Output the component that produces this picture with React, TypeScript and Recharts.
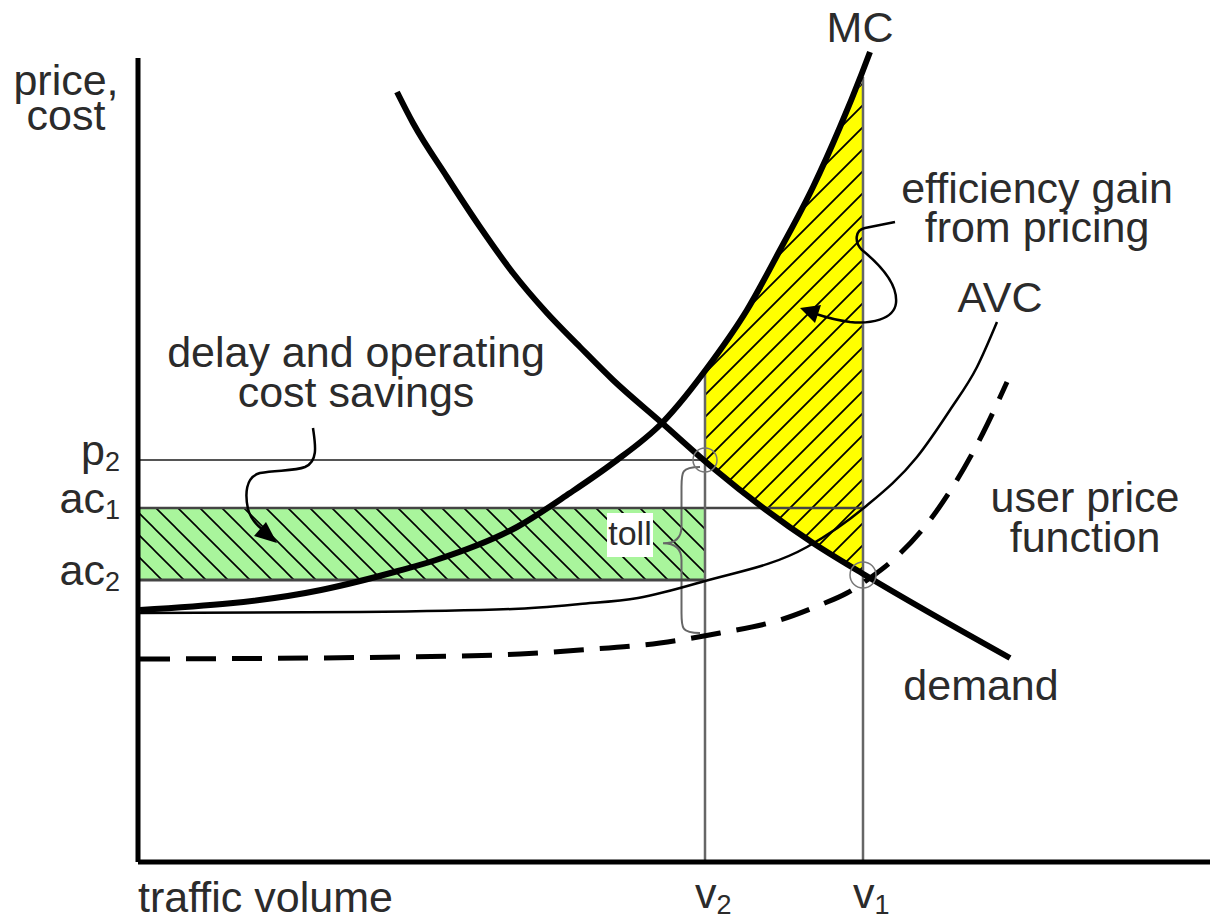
import React from 'react'
import {
  ComposedChart,
  Line,
  Area,
  XAxis,
  YAxis,
  ReferenceLine,
  ReferenceArea,
  ReferenceDot,
} from 'recharts'

// traffic volume (q) against price / cost (p)
const demand = [
  { q: 2.59, p: 7.7 }, { q: 2.75, p: 7.39 }, { q: 3.09, p: 6.85 }, { q: 3.42, p: 6.35 },
  { q: 3.75, p: 5.89 }, { q: 4.09, p: 5.49 }, { q: 4.42, p: 5.15 }, { q: 4.75, p: 4.82 },
  { q: 5.24, p: 4.39 }, { q: 5.75, p: 3.94 }, { q: 6.75, p: 3.19 }, { q: 7.27, p: 2.87 },
  { q: 8.72, p: 2.04 },
]

const marginalCost = [
  { q: 0.02, p: 2.52 }, { q: 1.83, p: 2.72 }, { q: 2.6, p: 2.91 },
  { q: 2.98, p: 3.02 }, { q: 3.79, p: 3.35 }, { q: 4.32, p: 3.69 }, { q: 4.75, p: 3.99 },
  { q: 5.24, p: 4.39 }, { q: 5.75, p: 5.02 }, { q: 6.09, p: 5.52 }, { q: 6.42, p: 6.12 },
  { q: 6.75, p: 6.75 }, { q: 7.02, p: 7.35 }, { q: 7.24, p: 7.89 }, { q: 7.32, p: 8.1 },
]

const avgVariableCost = [
  { q: 0.02, p: 2.49 }, { q: 2.22, p: 2.5 }, { q: 3.75, p: 2.53 }, { q: 4.42, p: 2.58 },
  { q: 5.0, p: 2.64 }, { q: 5.67, p: 2.81 }, { q: 6.69, p: 3.15 }, { q: 7.27, p: 3.55 },
  { q: 7.79, p: 4.05 }, { q: 8.12, p: 4.52 }, { q: 8.39, p: 4.95 }, { q: 8.59, p: 5.4 },
]

const userPrice = [
  { q: 0.02, p: 2.03 }, { q: 2.62, p: 2.05 }, { q: 3.82, p: 2.08 }, { q: 4.42, p: 2.12 },
  { q: 5.22, p: 2.19 }, { q: 5.82, p: 2.29 }, { q: 6.42, p: 2.42 }, { q: 6.82, p: 2.57 },
  { q: 7.09, p: 2.69 }, { q: 7.32, p: 2.84 }, { q: 7.55, p: 3.02 }, { q: 7.92, p: 3.42 },
  { q: 8.19, p: 3.82 }, { q: 8.45, p: 4.29 }, { q: 8.69, p: 4.8 },
]

// between demand (low) and MC (high), from v2 to v1
const efficiencyGain = [
  { q: 5.67, band: [4.0, 4.88] }, { q: 6.0, band: [3.74, 5.39] }, { q: 6.25, band: [3.56, 5.81] },
  { q: 6.5, band: [3.37, 6.27] }, { q: 6.75, band: [3.19, 6.75] }, { q: 7.0, band: [3.03, 7.3] },
  { q: 7.25, band: [2.88, 7.82] },
]

const V2 = 5.67
const V1 = 7.25
const P2 = 4.02
const AC1 = 3.54
const AC2 = 2.82

const costSavings = [
  { q: 0, band: [AC2, AC1] },
  { q: V2, band: [AC2, AC1] },
]

const volumeTicks = [
  { value: V2, base: 'v', sub: '2' },
  { value: V1, base: 'v', sub: '1' },
]
const priceTicks = [
  { value: P2, base: 'p', sub: '2' },
  { value: AC1, base: 'ac', sub: '1' },
  { value: AC2, base: 'ac', sub: '2' },
]

const FONT = '"Liberation Sans", Arial, sans-serif'
const INK = '#2b2b2b'
const GUIDE = '#555'

// text notes on the diagram: position in data units, baseline of each line
const notes = [
  { x: -0.72, y: 7.67, lines: ['price,', 'cost'], step: 0.35, anchor: 'middle' },
  { x: 7.22, y: 8.2, lines: ['MC'], step: 0, anchor: 'middle' },
  { x: 8.99, y: 6.59, lines: ['efficiency gain', 'from pricing'], step: 0.39, anchor: 'middle' },
  { x: 8.62, y: 5.5, lines: ['AVC'], step: 0, anchor: 'middle' },
  { x: 9.47, y: 3.5, lines: ['user price', 'function'], step: 0.4, anchor: 'middle' },
  { x: 8.43, y: 1.62, lines: ['demand'], step: 0, anchor: 'middle' },
  { x: 2.18, y: 4.95, lines: ['delay and operating', 'cost savings'], step: 0.4, anchor: 'middle' },
  { x: 0, y: -0.5, lines: ['traffic volume'], step: 0, anchor: 'start' },
]

function subLabel(base: string, sub: string, x: number, y: number, anchor: string) {
  return (
    <text x={x} y={y} textAnchor={anchor} fontFamily={FONT} fontSize={43} fill={INK}>
      <tspan>{base}</tspan>
      <tspan fontSize={27} dy={6}>{sub}</tspan>
    </text>
  )
}

function VolumeTick(props: any) {
  const t = volumeTicks.find((d) => Math.abs(d.value - props.payload.value) < 1e-6)
  if (!t) return null
  return subLabel(t.base, t.sub, props.x - 10, props.y + 38, 'start')
}

function PriceTick(props: any) {
  const t = priceTicks.find((d) => Math.abs(d.value - props.payload.value) < 1e-6)
  if (!t) return null
  return subLabel(t.base, t.sub, props.x - 10, props.y + 5, 'end')
}

// "{" brace drawn inside the reference box, tip pointing left
function Brace(props: any) {
  const { x, y, width: w, height: h } = props
  const m = x + 0.5 * w
  const tip = y + 0.46 * h
  const d = [
    `M${x + w},${y}`,
    `C${m},${y} ${m},${y + 0.03 * h} ${m},${y + 0.12 * h}`,
    `L${m},${tip - 0.1 * h}`,
    `C${m},${tip - 0.03 * h} ${x + 0.3 * w},${tip} ${x},${tip}`,
    `C${x + 0.3 * w},${tip} ${m},${tip + 0.03 * h} ${m},${tip + 0.1 * h}`,
    `L${m},${y + 0.88 * h}`,
    `C${m},${y + 0.97 * h} ${m},${y + h} ${x + w},${y + h}`,
  ].join(' ')
  return <path d={d} fill="none" stroke="#666" strokeWidth={2} />
}

function DelayArrow(props: any) {
  const { cx, cy } = props
  return (
    <g transform={`translate(${cx},${cy})`}>
      <path
        d="M36,-115 C38,-100 42,-82 28,-76 C18,-72 0,-73 -17,-70 C-32,-66 -32,-48 -29,-34 C-27,-26 -23,-20 -14,-13"
        fill="none"
        stroke="#000"
        strokeWidth={2.5}
      />
      <path d="M0,0 L-23,-7 L-11,-21 Z" fill="#000" />
    </g>
  )
}

function GainArrow(props: any) {
  const { cx, cy } = props
  return (
    <g transform={`translate(${cx},${cy})`}>
      <path
        d="M95,-86 L65,-80 C55,-78 54,-66 62,-58 C78,-45 98,-25 96,-5 C94,12 70,16 50,14 C35,12 25,9 16,6"
        fill="none"
        stroke="#000"
        strokeWidth={2.5}
      />
      <path d="M0,0 L21,-3 L15,15 Z" fill="#000" />
    </g>
  )
}

function TollTag(props: any) {
  const { cx, cy } = props
  return (
    <g>
      <rect x={cx - 23} y={cy - 32} width={46} height={44} fill="#fff" />
      <text x={cx} y={cy} textAnchor="middle" fontFamily={FONT} fontSize={34} fill={INK}>
        toll
      </text>
    </g>
  )
}

function noteDot(n: (typeof notes)[number], i: number) {
  return (
    <ReferenceDot
      key={'note' + i}
      x={n.x}
      y={n.y}
      r={0}
      ifOverflow="visible"
      shape={(p: any) => (
        <text x={p.cx} y={p.cy} textAnchor={n.anchor} fontFamily={FONT} fontSize={43} fill={INK}>
          {n.lines.map((l, j) => (
            <tspan key={j} x={p.cx} y={p.cy + j * n.step * 100}>
              {l}
            </tspan>
          ))}
        </text>
      )}
    />
  )
}

export default function App() {
  return (
    <div style={{ position: 'absolute', left: 0, top: 0, width: 1210, height: 921, background: '#fff' }}>
      <ComposedChart width={1210} height={921} margin={{ top: 42, right: 0, bottom: 0, left: 0 }}>
        <defs>
          <pattern id="yellowHatch" patternUnits="userSpaceOnUse" width="22" height="22">
            <rect width="22" height="22" fill="#ffff00" />
            <path d="M-5.5,5.5 L5.5,-5.5 M0,22 L22,0 M16.5,27.5 L27.5,16.5" stroke="#000" strokeWidth={1.8} />
          </pattern>
          <pattern id="greenHatch" patternUnits="userSpaceOnUse" width="22" height="22">
            <rect width="22" height="22" fill="#a9f59c" />
            <path d="M-5.5,16.5 L5.5,27.5 M0,0 L22,22 M16.5,-5.5 L27.5,5.5" stroke="#000" strokeWidth={1.6} />
          </pattern>
        </defs>
        <XAxis
          dataKey="q"
          type="number"
          domain={[0, 10.72]}
          allowDataOverflow
          ticks={volumeTicks.map((t) => t.value)}
          tick={<VolumeTick />}
          axisLine={false}
          tickLine={false}
          height={59}
        />
        <YAxis
          type="number"
          domain={[0, 8.2]}
          allowDataOverflow
          ticks={priceTicks.map((t) => t.value)}
          tick={<PriceTick />}
          axisLine={false}
          tickLine={false}
          width={138}
        />

        <Area
          data={costSavings}
          dataKey="band"
          type="linear"
          stroke="none"
          fill="url(#greenHatch)"
          fillOpacity={1}
          isAnimationActive={false}
        />
        <Area
          data={efficiencyGain}
          dataKey="band"
          type="monotone"
          stroke="none"
          fill="url(#yellowHatch)"
          fillOpacity={1}
          isAnimationActive={false}
        />

        <ReferenceLine segment={[{ x: 0, y: P2 }, { x: V2, y: P2 }]} stroke={GUIDE} strokeWidth={2} />
        <ReferenceLine segment={[{ x: 0, y: AC1 }, { x: V1, y: AC1 }]} stroke="#444" strokeWidth={2.5} />
        <ReferenceLine segment={[{ x: 0, y: AC2 }, { x: V2, y: AC2 }]} stroke="#444" strokeWidth={3} />
        <ReferenceLine segment={[{ x: V2, y: 0 }, { x: V2, y: 4.88 }]} stroke="#666" strokeWidth={2.5} />
        <ReferenceLine segment={[{ x: V1, y: 0 }, { x: V1, y: 7.85 }]} stroke="#666" strokeWidth={2.5} />

        <Line
          data={userPrice}
          dataKey="p"
          type="monotone"
          dot={false}
          stroke="#000"
          strokeWidth={5}
          strokeDasharray="30 16"
          isAnimationActive={false}
        />
        <Line
          data={avgVariableCost}
          dataKey="p"
          type="monotone"
          dot={false}
          stroke="#000"
          strokeWidth={2.5}
          isAnimationActive={false}
        />
        <Line
          data={marginalCost}
          dataKey="p"
          type="monotone"
          dot={false}
          stroke="#000"
          strokeWidth={6}
          isAnimationActive={false}
        />
        <Line
          data={demand}
          dataKey="p"
          type="monotone"
          dot={false}
          stroke="#000"
          strokeWidth={6}
          isAnimationActive={false}
        />

        <ReferenceLine segment={[{ x: 0, y: 0 }, { x: 0, y: 8.04 }]} stroke="#000" strokeWidth={5} />
        <ReferenceLine segment={[{ x: 0, y: 0 }, { x: 10.72, y: 0 }]} stroke="#000" strokeWidth={5} />

        <ReferenceDot x={V2} y={P2} r={12} fill="none" stroke="#777" strokeWidth={1.5} />
        <ReferenceDot x={V1} y={2.87} r={13} fill="none" stroke="#777" strokeWidth={1.5} />

        <ReferenceArea x1={5.25} x2={5.62} y1={2.29} y2={3.95} shape={<Brace />} ifOverflow="visible" />
        <ReferenceDot x={1.39} y={3.19} r={0} shape={<DelayArrow />} ifOverflow="visible" />
        <ReferenceDot x={6.62} y={5.54} r={0} shape={<GainArrow />} ifOverflow="visible" />
        <ReferenceDot x={4.92} y={3.17} r={0} shape={<TollTag />} ifOverflow="visible" />

        {notes.map(noteDot)}
      </ComposedChart>
    </div>
  )
}
